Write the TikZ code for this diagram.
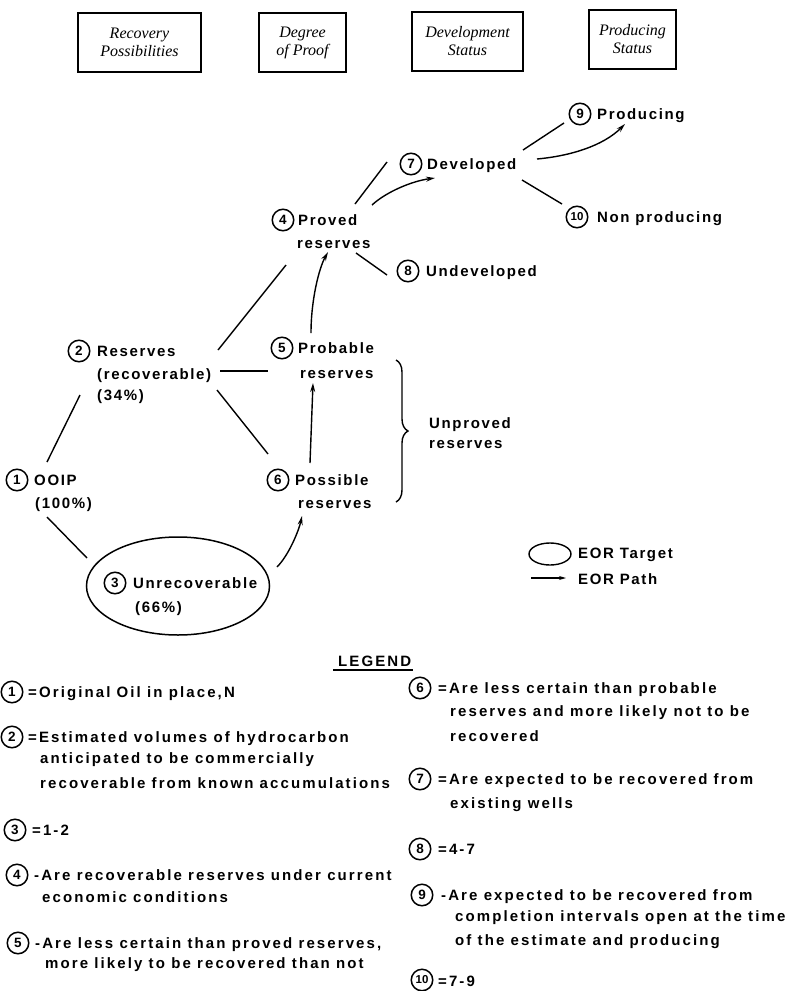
\documentclass[tikz,border=0pt]{standalone}
\usepackage{fontspec}
\usetikzlibrary{arrows.meta,shapes.geometric,decorations.pathreplacing}
\setmainfont{Liberation Sans}
\newfontfamily\labf[LetterSpace=11]{Liberation Sans}
\newfontfamily\legf[LetterSpace=14]{Liberation Sans}
\newfontfamily\numf{Liberation Sans}
\newfontfamily\hdrf{Liberation Serif}
\begin{document}
\begin{tikzpicture}[x=1pt,y=-1pt,
  lbl/.style={anchor=base west, inner sep=0pt, font=\labf\bfseries\fontsize{15}{18}\selectfont},
  lgd/.style={anchor=base west, inner sep=0pt, font=\legf\bfseries\fontsize{15}{18}\selectfont},
  num/.style={circle, draw, line width=1.5pt, minimum size=21.5pt, inner sep=0pt, font=\numf\bfseries\fontsize{13.5}{13.5}\selectfont},
  hbox/.style={draw, line width=1.6pt, align=center, inner sep=0pt, font=\hdrf\itshape\fontsize{16}{18}\selectfont},
  con/.style={line width=1.4pt},
  arr/.style={line width=1.4pt, -{Stealth[length=9pt,width=5pt]}},
]
\useasboundingbox (0,0) rectangle (795,991);

% header boxes
\node[hbox, minimum width=123pt, minimum height=59pt] (h1) at (139.5,42.5) {Recovery\\Possibilities};
\node[hbox, minimum width=87pt, minimum height=59pt] (h2) at (302.5,42.5) {Degree\\of Proof};
\node[hbox, minimum width=111pt, minimum height=59pt] (h3) at (467.5,41.5) {Development\\Status};
\node[hbox, minimum width=87pt, minimum height=59pt] (h4) at (632.5,39.5) {Producing\\Status};

% diagram labels
\node[num] (c9) at (580,114) {9};
\node[lbl] (t9) at (597,119) {Producing};
\node[num] (c7) at (411,164) {7};
\node[lbl] (t7) at (427,169) {Developed};
\node[num] (c10) at (577,217) {\fontsize{11.5}{11.5}\selectfont 10};
\node[lbl] (t10) at (597,222) {Non producing};
\node[num] (c4) at (283,220) {4};
\node[lbl] (t4a) at (298,225) {Proved};
\node[lbl] (t4b) at (297,248) {reserves};
\node[num] (c8) at (408,271) {8};
\node[lbl] (t8) at (426,276) {Undeveloped};
\node[num] (c2) at (79,351) {2};
\node[lbl] (t2a) at (97,356) {Reserves};
\node[lbl] (t2b) at (97,379) {(recoverable)};
\node[lbl] (t2c) at (97,400) {(34\%)};
\node[num] (c5) at (282,348) {5};
\node[lbl] (t5a) at (298,353) {Probable};
\node[lbl] (t5b) at (300,378) {reserves};
\node[num] (c1) at (17,480) {1};
\node[lbl] (t1a) at (34,485) {OOIP};
\node[lbl] (t1b) at (35,508) {(100\%)};
\node[num] (c6) at (278,480) {6};
\node[lbl] (t6a) at (295,485) {Possible};
\node[lbl] (t6b) at (298,508) {reserves};
\node[draw, ellipse, line width=1.5pt, minimum width=183pt, minimum height=98pt, inner sep=0pt] (ell) at (178,586) {};
\node[num] (c3) at (115,583) {3};
\node[lbl] (t3a) at (133,588) {Unrecoverable};
\node[lbl] (t3b) at (135,612) {(66\%)};
\node[lbl] (tu1) at (429,428) {Unproved};
\node[lbl] (tu2) at (429,448) {reserves};

% connector end points
\coordinate (p24a) at (218,350); \coordinate (p24b) at (286,265);
\coordinate (p25a) at (220,371); \coordinate (p25b) at (268,371);
\coordinate (p21a) at (80,395);  \coordinate (p21b) at (47,462);
\coordinate (p26a) at (217,390); \coordinate (p26b) at (268,454);
\coordinate (p13a) at (47,517);  \coordinate (p13b) at (87,558);
\coordinate (p47a) at (355,204); \coordinate (p47b) at (387,162);
\coordinate (p48a) at (356,253); \coordinate (p48b) at (387,275);
\coordinate (p79a) at (523,150); \coordinate (p79b) at (564,123);
\coordinate (p710a) at (522,180); \coordinate (p710b) at (562,204);
\coordinate (q36a) at (277,567); \coordinate (q36b) at (302,516);
\coordinate (q65a) at (310,463); \coordinate (q65b) at (313,383);
\coordinate (q54a) at (311,333); \coordinate (q54b) at (328,252);
\coordinate (q47a) at (372,205); \coordinate (q47b) at (435,178);
\coordinate (q79a) at (537,159); \coordinate (q79b) at (625,124);
\coordinate (brT) at (396,360);  \coordinate (brB) at (396,502);

\draw[con] (p24a) -- (p24b);
\draw[con] (p25a) -- (p25b);
\draw[con] (p21a) -- (p21b);
\draw[con] (p26a) -- (p26b);
\draw[con] (p13a) -- (p13b);
\draw[con] (p47a) -- (p47b);
\draw[con] (p48a) -- (p48b);
\draw[con] (p79a) -- (p79b);
\draw[con] (p710a) -- (p710b);
\draw[arr] (q36a) .. controls (289,555) and (299,530) .. (q36b);
\draw[arr] (q65a) -- (q65b);
\draw[arr] (q54a) .. controls (311,300) and (319,268) .. (q54b);
\draw[arr] (q47a) .. controls (386,192) and (412,181) .. (q47b);
\draw[arr] (q79a) .. controls (570,156) and (603,146) .. (q79b);
\draw[con, decorate, decoration={brace, amplitude=12pt}] (brT) -- (brB);

% EOR legend
\node[draw, ellipse, line width=1.4pt, minimum width=42pt, minimum height=22pt, inner sep=0pt] (tgt) at (550,554) {};
\node[lbl] (ttgt) at (578,558) {EOR Target};
\coordinate (pa) at (531,578); \coordinate (pb) at (566,578);
\draw[line width=1.1pt, -{Stealth[length=7pt,width=4pt]}] (pa) -- (pb);
\node[lbl] (tpath) at (578,584) {EOR Path};

% LEGEND
\node[lgd] (lg) at (338,666) {LEGEND};
\coordinate (ula) at (333,670); \coordinate (ulb) at (413,670);
\draw[line width=1.4pt] (ula) -- (ulb);

\node[num] (l1) at (12,692) {1};
\node[lgd] (l1a) at (28,697) {=Original Oil in place,N};
\node[num] (l2) at (12,737) {2};
\node[lgd] (l2a) at (28,742) {=Estimated volumes of hydrocarbon};
\node[lgd] (l2b) at (40,763) {anticipated to be commercially};
\node[lgd] (l2c) at (40,788) {recoverable from known accumulations};
\node[num] (l3) at (15,830) {3};
\node[lgd] (l3a) at (32,835) {=1-2};
\node[num] (l4) at (17,875) {4};
\node[lgd] (l4a) at (34,880) {-Are recoverable reserves under current};
\node[lgd] (l4b) at (42,902) {economic conditions};
\node[num] (l5) at (18,943) {5};
\node[lgd] (l5a) at (35,948) {-Are less certain than proved reserves,};
\node[lgd] (l5b) at (45,968) {more likely to be recovered than not};

\node[num] (l6) at (420,688) {6};
\node[lgd] (l6a) at (438,693) {=Are less certain than probable};
\node[lgd] (l6b) at (450,716) {reserves and more likely not to be};
\node[lgd] (l6c) at (450,741) {recovered};
\node[num] (l7) at (420,779) {7};
\node[lgd] (l7a) at (438,784) {=Are expected to be recovered from};
\node[lgd] (l7b) at (450,808) {existing wells};
\node[num] (l8) at (420,849) {8};
\node[lgd] (l8a) at (438,854) {=4-7};
\node[num] (l9) at (422,895) {9};
\node[lgd] (l9a) at (441,900) {-Are expected to be recovered from};
\node[lgd] (l9b) at (455,921) {completion intervals open at the time};
\node[lgd] (l9c) at (455,945) {of the estimate and producing};
\node[num] (l10) at (422,980) {\fontsize{11.5}{11.5}\selectfont 10};
\node[lgd] (l10a) at (438,986) {=7-9};
\end{tikzpicture}
\end{document}
